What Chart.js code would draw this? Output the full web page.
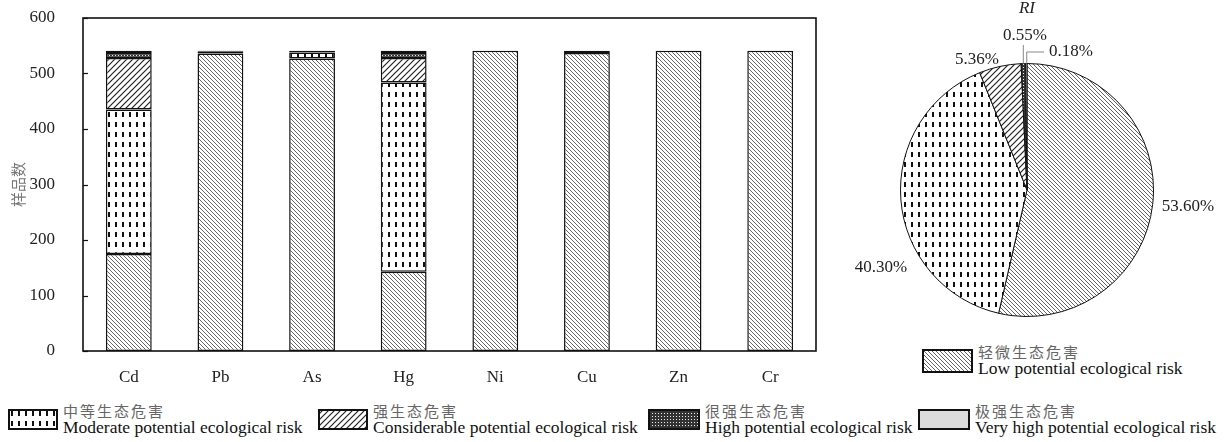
<!DOCTYPE html>
<html>
<head>
<meta charset="utf-8">
<script src="https://cdn.jsdelivr.net/npm/chart.js@4.4.1/dist/chart.umd.min.js"></script>
<style>
  html, body { margin: 0; padding: 0; background: #fff; }
  body { width: 1228px; height: 442px; position: relative; overflow: hidden; }
  #barWrap { position: absolute; left: 0; top: 0; width: 845px; height: 390px; }
  #pieWrap { position: absolute; left: 845px; top: 0; width: 383px; height: 340px; }
  .legend-item { position: absolute; display: flex; align-items: center; white-space: nowrap; }
  .legend-item canvas { display: block; }
  .legend-text { margin-left: 5px; }
  .zh { font-family: "Noto Sans CJK SC", sans-serif; font-size: 15px; line-height: 16px; color: #666; letter-spacing: 2px; }
  .en { font-family: "Liberation Serif", serif; font-size: 17.5px; line-height: 17px; color: #111; }
</style>
</head>
<body>
<div id="barWrap"><canvas id="bar" width="845" height="390"></canvas></div>
<div id="pieWrap"><canvas id="pie" width="383" height="340"></canvas></div>
<div id="legends"></div>

<script>
// ---- data ----
const elements = ['Cd', 'Pb', 'As', 'Hg', 'Ni', 'Cu', 'Zn', 'Cr'];
const lowRisk          = [175, 536, 527, 143, 541, 537, 541, 541];
const moderateRisk     = [260,   4,  11, 341,   0,   4,   0,   0];
const considerableRisk = [ 93,   1,   3,  44,   0,   0,   0,   0];
const highRisk         = [  9,   0,   0,   9,   0,   0,   0,   0];
const veryHighRisk     = [  4,   0,   0,   4,   0,   0,   0,   0];
const yTicks = [0, 100, 200, 300, 400, 500, 600];

// RI classes: low, moderate, considerable, high, very high
const riCounts = [290, 218, 29, 3, 1];

const riskNamesZh = ['轻微生态危害', '中等生态危害', '强生态危害', '很强生态危害', '极强生态危害'];
const riskNamesEn = ['Low potential ecological risk', 'Moderate potential ecological risk',
  'Considerable potential ecological risk', 'High potential ecological risk', 'Very high potential ecological risk'];

// ---- fill patterns ----
function makeTile(w, h, draw) {
  const c = document.createElement('canvas');
  c.width = w; c.height = h;
  draw(c.getContext('2d'), w, h);
  return c;
}
const tiles = [
  // low: fine back-slash hatch
  makeTile(4, 4, (g) => {
    g.fillStyle = '#fff'; g.fillRect(0, 0, 4, 4);
    g.strokeStyle = '#666'; g.lineWidth = 1;
    g.beginPath();
    g.moveTo(-1, -1); g.lineTo(5, 5);
    g.moveTo(-1, 3); g.lineTo(1, 5);
    g.moveTo(3, -1); g.lineTo(5, 1);
    g.stroke();
  }),
  // moderate: short vertical dashes
  makeTile(7, 10, (g) => {
    g.fillStyle = '#fff'; g.fillRect(0, 0, 7, 10);
    g.fillStyle = '#111'; g.fillRect(3, 2, 2, 5);
  }),
  // considerable: forward-slash hatch
  makeTile(6, 6, (g) => {
    g.fillStyle = '#fff'; g.fillRect(0, 0, 6, 6);
    g.strokeStyle = '#222'; g.lineWidth = 1.2;
    g.beginPath();
    g.moveTo(-1, 7); g.lineTo(7, -1);
    g.moveTo(-1, 1); g.lineTo(1, -1);
    g.moveTo(5, 7); g.lineTo(7, 5);
    g.stroke();
  }),
  // high: dense dotted
  makeTile(3, 3, (g) => {
    g.fillStyle = '#333'; g.fillRect(0, 0, 3, 3);
    g.fillStyle = '#eee'; g.fillRect(1, 1, 1, 1);
  }),
  null
];
function fillFor(ctx, i) {
  return tiles[i] ? ctx.createPattern(tiles[i], 'repeat') : '#dcdcdc';
}

// ---- bar chart ----
const barCtx = document.getElementById('bar').getContext('2d');
const seriesList = [lowRisk, moderateRisk, considerableRisk, highRisk, veryHighRisk];

const frame = {
  id: 'frame',
  afterDatasetsDraw(chart) {
    const { ctx, chartArea: a, scales: { y } } = chart;
    ctx.save();
    ctx.strokeStyle = '#111';
    ctx.lineWidth = 1.6;
    ctx.strokeRect(a.left, a.top, a.right - a.left, a.bottom - a.top);
    ctx.lineWidth = 1.2;
    y.ticks.forEach((t) => {
      const py = Math.round(y.getPixelForValue(t.value)) + 0.5;
      ctx.beginPath();
      ctx.moveTo(a.left, py);
      ctx.lineTo(a.left + 5, py);
      ctx.stroke();
    });
    ctx.restore();
  }
};

new Chart(barCtx, {
  type: 'bar',
  data: {
    labels: elements,
    datasets: seriesList.map((vals, i) => ({
      label: riskNamesEn[i],
      data: vals.map((v) => (v > 0 ? v : null)),
      backgroundColor: fillFor(barCtx, i),
      borderColor: '#111',
      borderWidth: 1.5,
      borderSkipped: false,
      barPercentage: 0.5,
      categoryPercentage: 1
    }))
  },
  options: {
    responsive: false,
    animation: false,
    events: [],
    layout: { padding: { top: 18, right: 29, left: 0, bottom: 0 } },
    plugins: { legend: { display: false }, tooltip: { enabled: false } },
    scales: {
      x: {
        stacked: true,
        grid: { display: false },
        border: { display: false },
        ticks: { color: '#222', font: { family: 'Liberation Serif', size: 17 }, padding: 8 },
        afterFit(scale) { scale.height = 39; scale.paddingLeft = 0; scale.paddingRight = 0; }
      },
      y: {
        stacked: true,
        min: 0, max: 600,
        afterBuildTicks(scale) { scale.ticks = yTicks.map((v) => ({ value: v })); },
        grid: { display: false },
        border: { display: false },
        ticks: { color: '#222', font: { family: 'Liberation Serif', size: 17 }, padding: 20 },
        title: {
          display: true, text: '样品数', color: '#777',
          font: { family: 'Noto Sans CJK SC', size: 15 }, padding: { top: 9, bottom: 0 }
        },
        afterFit(scale) { scale.width = 83; scale.paddingTop = 0; scale.paddingBottom = 0; }
      }
    }
  },
  plugins: [frame]
});

// ---- RI pie ----
const pieCtx = document.getElementById('pie').getContext('2d');
const riTotal = riCounts.reduce((a, b) => a + b, 0);
const pctText = (v) => (v / riTotal * 100).toFixed(2) + '%';

// label text centres relative to the pie centre, and leader style
const pieLabelStyle = [
  { dx: 161, dy: 17 },
  { dx: -146, dy: 78 },
  { dx: -50, dy: -130 },
  { dx: -2, dy: -154, leader: 'up' },
  { dx: 44, dy: -138, leader: 'upRight' }
];

const pieLabels = {
  id: 'pieLabels',
  afterDatasetsDraw(chart) {
    const ctx = chart.ctx;
    const meta = chart.getDatasetMeta(0);
    ctx.save();
    ctx.font = '17px "Liberation Serif"';
    ctx.fillStyle = '#222';
    ctx.textAlign = 'center';
    ctx.textBaseline = 'middle';
    meta.data.forEach((arc, i) => {
      const p = arc.getProps(['x', 'y', 'startAngle', 'endAngle', 'outerRadius'], true);
      const mid = (p.startAngle + p.endAngle) / 2;
      const rx = p.x + Math.cos(mid) * p.outerRadius;
      const ry = p.y + Math.sin(mid) * p.outerRadius;
      const st = pieLabelStyle[i];
      const tx = p.x + st.dx, ty = p.y + st.dy;
      if (st.leader) {
        ctx.strokeStyle = '#888';
        ctx.lineWidth = 1;
        ctx.beginPath();
        if (st.leader === 'up') {
          ctx.moveTo(rx, ry);
          ctx.lineTo(rx, ty + 9);
        } else {
          ctx.moveTo(rx + 0.5, ry);
          ctx.lineTo(rx + 0.5, ty);
          ctx.lineTo(tx - 27, ty);
        }
        ctx.stroke();
      }
      ctx.fillText(pctText(riCounts[i]), tx, ty);
    });
    ctx.font = 'italic 17px "Liberation Serif"';
    ctx.fillText('RI', meta.data[0].x, 9);
    ctx.restore();
  }
};

new Chart(pieCtx, {
  type: 'pie',
  data: {
    labels: riskNamesEn,
    datasets: [{
      data: riCounts,
      backgroundColor: riCounts.map((_, i) => fillFor(pieCtx, i)),
      borderColor: '#111',
      borderWidth: 1
    }]
  },
  options: {
    responsive: false,
    animation: false,
    events: [],
    layout: { padding: { left: 55, right: 74, top: 63, bottom: 23 } },
    plugins: { legend: { display: false }, tooltip: { enabled: false } }
  },
  plugins: [pieLabels]
});

// ---- legends ----
const legendSpots = [
  { cls: 0, left: 922, top: 344, w: 51, h: 24 },
  { cls: 1, left: 8, top: 403, w: 50, h: 21 },
  { cls: 2, left: 318, top: 403, w: 50, h: 21 },
  { cls: 3, left: 648, top: 403, w: 52, h: 21 },
  { cls: 4, left: 918, top: 403, w: 52, h: 21 }
];
const legendBox = document.getElementById('legends');
legendSpots.forEach((s) => {
  const item = document.createElement('div');
  item.className = 'legend-item';
  item.style.left = s.left + 'px';
  item.style.top = s.top + 'px';
  const sw = document.createElement('canvas');
  sw.width = s.w; sw.height = s.h;
  const g = sw.getContext('2d');
  g.fillStyle = fillFor(g, s.cls);
  g.fillRect(0, 0, s.w, s.h);
  g.strokeStyle = '#111';
  g.lineWidth = 2;
  g.strokeRect(1, 1, s.w - 2, s.h - 2);
  const txt = document.createElement('div');
  txt.className = 'legend-text';
  txt.innerHTML = '<div class="zh"></div><div class="en"></div>';
  txt.children[0].textContent = riskNamesZh[s.cls];
  txt.children[1].textContent = riskNamesEn[s.cls];
  item.appendChild(sw);
  item.appendChild(txt);
  legendBox.appendChild(item);
});
</script>
</body>
</html>
